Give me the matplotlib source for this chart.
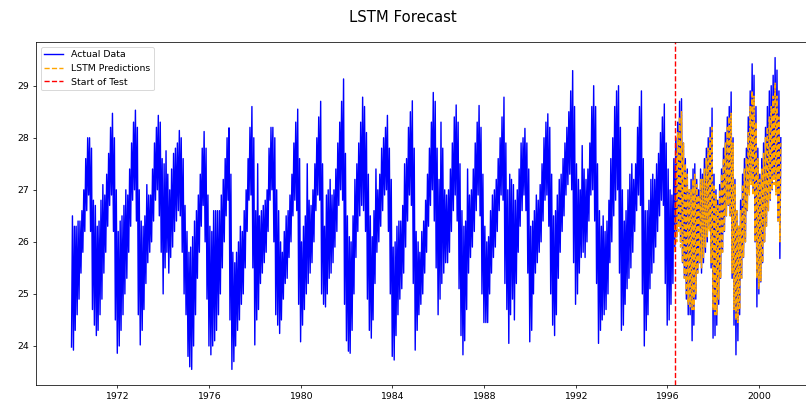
import matplotlib
matplotlib.use('Agg')
import matplotlib.pyplot as plt
import matplotlib.dates as mdates
import numpy as np

# the series is dense, keep every vertex when drawing
plt.rcParams['path.simplify'] = False

# monthly low / high of the actual series, one row per year (Jan..Dec)
years = list(range(1970, 2001))
monthly_low = [
    [23.98, 23.92, 24.3, 24.6, 24.9, 25.4, 25.8, 26.2, 26.6, 26.9, 26.2, 24.7],
    [24.4, 24.2, 24.3, 24.6, 24.9, 25.4, 25.8, 26.3, 26.7, 26.9, 26.2, 24.5],
    [23.86, 24.0, 24.3, 24.6, 25.0, 25.3, 25.8, 26.3, 26.8, 27.0, 26.4, 24.6],
    [24.02, 24.3, 24.7, 25.2, 25.6, 25.8, 26.0, 26.4, 26.8, 27.0, 26.5, 25.8],
    [25.0, 25.5, 25.8, 25.4, 25.7, 25.9, 26.2, 26.4, 26.6, 26.5, 25.8, 25.0],
    [24.6, 23.8, 23.6, 23.55, 24.0, 24.6, 25.3, 25.8, 26.3, 26.7, 26.0, 24.9],
    [24.0, 23.83, 24.0, 24.1, 24.3, 24.6, 25.0, 25.5, 26.0, 26.5, 26.8, 24.5],
    [23.55, 23.7, 24.0, 24.3, 24.5, 24.8, 25.0, 25.5, 26.2, 26.8, 26.9, 25.5],
    [24.02, 24.5, 24.7, 25.2, 25.4, 25.6, 25.8, 26.2, 26.8, 27.0, 26.0, 24.6],
    [24.4, 24.24, 24.5, 24.9, 25.2, 25.3, 25.7, 26.0, 26.5, 26.8, 26.6, 24.8],
    [24.08, 24.4, 24.7, 25.0, 25.2, 25.4, 25.6, 26.0, 26.6, 26.9, 26.8, 25.0],
    [24.8, 24.75, 25.0, 25.3, 25.4, 25.6, 25.9, 26.2, 26.7, 27.0, 26.8, 24.8],
    [24.1, 23.9, 23.86, 24.3, 25.0, 25.7, 26.2, 26.5, 26.7, 26.6, 26.2, 24.9],
    [24.3, 24.15, 24.5, 25.2, 25.8, 26.0, 26.3, 26.6, 26.9, 27.0, 26.2, 25.0],
    [23.8, 23.73, 24.2, 24.6, 24.9, 25.1, 25.4, 25.9, 26.4, 26.9, 26.7, 25.2],
    [23.92, 24.3, 24.6, 24.8, 25.0, 25.4, 25.8, 26.3, 26.7, 27.0, 26.4, 25.5],
    [24.6, 24.9, 25.2, 25.4, 25.6, 25.6, 25.8, 26.2, 26.6, 26.9, 26.4, 25.1],
    [24.2, 23.83, 24.1, 24.7, 25.4, 25.7, 25.9, 26.2, 26.6, 26.9, 26.5, 25.0],
    [24.45, 24.45, 24.45, 25.0, 25.4, 25.7, 25.9, 26.2, 26.6, 26.9, 26.8, 25.2],
    [24.7, 24.05, 24.6, 24.9, 24.5, 25.2, 25.8, 26.3, 26.6, 26.9, 26.6, 25.4],
    [24.08, 24.3, 25.0, 25.4, 25.6, 25.8, 26.0, 26.4, 26.8, 26.9, 26.3, 25.0],
    [24.4, 24.2, 24.6, 25.3, 25.8, 26.2, 26.5, 26.9, 27.1, 27.3, 27.0, 25.6],
    [24.8, 25.0, 25.4, 25.7, 25.8, 25.7, 26.0, 26.4, 26.9, 27.0, 26.4, 25.2],
    [24.05, 24.3, 24.5, 24.6, 24.7, 25.0, 25.6, 26.0, 26.5, 26.8, 27.0, 25.4],
    [24.3, 24.4, 24.8, 25.1, 25.3, 25.5, 25.8, 26.2, 26.6, 26.9, 26.7, 25.0],
    [24.0, 24.3, 24.6, 25.1, 25.4, 25.6, 25.9, 26.2, 26.5, 26.8, 26.7, 25.2],
    [24.4, 24.5, 24.8, 25.2, 25.9, 26.1, 26.3, 26.0, 25.6, 25.3, 24.9, 24.6],
    [24.6, 24.1, 24.4, 24.9, 25.4, 25.6, 25.4, 25.6, 25.8, 26.0, 26.3, 25.5],
    [24.15, 24.2, 24.4, 24.8, 25.3, 25.8, 26.2, 26.5, 26.7, 26.5, 25.3, 24.4],
    [23.83, 24.1, 24.6, 25.3, 25.7, 26.0, 26.6, 27.0, 27.2, 27.0, 26.0, 24.75],
    [25.0, 25.23, 25.6, 26.0, 26.3, 26.6, 26.8, 27.0, 27.2, 27.0, 26.4, 25.68],
]
monthly_high = [
    [26.5, 26.3, 26.3, 26.4, 26.4, 26.6, 27.0, 27.6, 28.0, 28.0, 27.8, 26.8],
    [26.7, 26.3, 26.4, 26.8, 27.1, 26.9, 27.3, 27.7, 28.2, 28.47, 28.0, 27.0],
    [26.2, 26.4, 26.5, 26.7, 27.0, 26.9, 27.4, 27.9, 28.3, 28.53, 28.2, 27.0],
    [26.4, 26.3, 26.5, 27.1, 26.9, 26.9, 27.4, 27.9, 28.2, 28.43, 28.3, 27.6],
    [27.5, 27.75, 27.3, 27.0, 27.4, 27.7, 27.8, 27.9, 28.14, 28.0, 27.6, 26.7],
    [26.2, 25.8, 25.9, 26.1, 26.4, 26.6, 26.9, 27.3, 27.8, 28.12, 27.8, 26.9],
    [26.3, 26.2, 26.6, 26.6, 26.6, 26.6, 26.9, 27.2, 27.6, 28.0, 28.19, 27.3],
    [25.8, 25.6, 25.8, 26.0, 26.3, 26.2, 26.6, 27.0, 27.6, 28.2, 28.6, 28.0],
    [26.6, 27.5, 26.5, 26.6, 26.7, 26.8, 27.0, 27.8, 28.2, 28.2, 28.0, 27.0],
    [26.6, 26.0, 25.8, 26.2, 26.5, 26.6, 26.9, 27.3, 27.9, 28.3, 28.55, 27.6],
    [26.0, 26.3, 26.5, 27.5, 26.8, 26.7, 27.0, 27.5, 28.0, 28.4, 28.7, 27.5],
    [26.3, 26.9, 27.0, 27.2, 26.9, 27.0, 27.4, 27.9, 28.3, 28.7, 29.13, 27.7],
    [26.5, 26.1, 26.0, 26.5, 27.2, 27.5, 27.9, 28.3, 28.78, 28.6, 28.1, 27.3],
    [26.5, 26.1, 26.6, 27.4, 27.0, 27.3, 27.8, 28.0, 28.2, 28.43, 27.8, 27.2],
    [25.9, 26.0, 26.3, 26.4, 26.4, 26.7, 27.5, 27.6, 28.2, 28.5, 28.71, 27.8],
    [26.2, 26.0, 25.8, 26.2, 26.4, 26.8, 27.3, 27.8, 28.3, 28.87, 28.7, 27.8],
    [27.2, 28.3, 27.8, 27.0, 26.9, 27.0, 27.4, 27.9, 28.4, 28.63, 28.3, 27.5],
    [26.6, 26.3, 26.4, 27.4, 26.9, 27.0, 27.4, 27.9, 28.3, 28.62, 28.2, 27.3],
    [26.3, 26.0, 26.1, 26.6, 26.9, 27.0, 27.2, 27.6, 28.0, 28.4, 28.78, 27.9],
    [27.0, 27.3, 27.2, 27.1, 26.8, 27.0, 27.4, 27.9, 28.0, 28.18, 27.9, 27.4],
    [26.3, 26.4, 26.6, 26.9, 26.8, 27.1, 27.5, 28.0, 28.3, 28.46, 28.2, 27.3],
    [26.5, 26.6, 26.9, 27.2, 27.3, 27.6, 27.9, 28.2, 28.5, 28.9, 29.29, 28.6],
    [27.5, 27.2, 27.0, 27.85, 27.4, 27.2, 27.4, 27.9, 28.6, 29.0, 28.6, 27.5],
    [26.6, 26.3, 26.5, 26.2, 26.4, 26.8, 27.6, 28.0, 28.6, 28.9, 29.0, 28.2],
    [27.0, 26.4, 26.6, 27.0, 27.3, 27.5, 27.2, 27.5, 28.2, 28.6, 28.9, 27.6],
    [26.6, 26.6, 26.8, 27.2, 27.3, 27.2, 27.5, 27.7, 28.1, 28.4, 28.65, 27.9],
    [27.4, 27.0, 26.9, 27.6, 28.0, 28.3, 28.7, 28.75, 27.9, 27.6, 27.4, 27.0],
    [27.2, 27.4, 27.5, 27.2, 27.0, 27.4, 27.3, 27.6, 27.8, 28.0, 28.2, 28.57],
    [27.3, 27.0, 26.8, 27.1, 27.4, 27.8, 28.1, 28.4, 28.6, 28.88, 28.0, 27.2],
    [26.6, 26.3, 26.8, 27.3, 27.6, 27.8, 28.4, 28.9, 29.42, 29.2, 28.6, 27.8],
    [27.3, 27.6, 27.9, 28.2, 28.6, 28.9, 29.0, 29.2, 29.54, 29.3, 28.9, 28.0],
]

# LSTM predictions, monthly low / high from May 1996 to Dec 2000
test_start = '1996-05-01'
pred_low = [
    25.8, 26.0, 26.2, 25.9, 25.6, 25.3, 25.0, 24.8,
    24.75, 24.7, 24.7, 25.0, 25.4, 25.6, 25.5, 25.7, 25.9, 26.1, 26.2, 25.6,
    24.7, 24.6, 24.6, 24.9, 25.3, 25.8, 26.2, 26.5, 26.7, 26.5, 25.4, 24.7,
    24.5, 24.45, 24.7, 25.3, 25.7, 26.0, 26.6, 26.9, 27.1, 26.9, 26.0, 25.3,
    25.1, 25.25, 25.6, 26.0, 26.3, 26.6, 26.8, 27.0, 27.1, 26.9, 26.4, 26.0,
]
pred_high = [
    27.7, 28.1, 28.4, 28.5, 27.9, 27.5, 27.3, 27.0,
    27.0, 27.2, 27.3, 27.1, 26.9, 27.2, 27.2, 27.4, 27.6, 27.8, 28.0, 28.2,
    27.1, 26.9, 26.7, 27.0, 27.3, 27.6, 27.9, 28.2, 28.4, 28.47, 27.9, 27.1,
    26.6, 26.3, 26.6, 27.1, 27.4, 27.6, 28.1, 28.6, 28.9, 28.8, 28.3, 27.6,
    27.2, 27.4, 27.7, 28.0, 28.2, 28.4, 28.6, 28.8, 29.05, 28.8, 28.4, 27.9,
]


def zigzag(start_year, start_month, lows, highs):
    # low at the 1st of each month, high mid-month
    dates, vals = [], []
    y, m = start_year, start_month
    for lo, hi in zip(lows, highs):
        dates.append(np.datetime64('%d-%02d-01' % (y, m)))
        vals.append(lo)
        dates.append(np.datetime64('%d-%02d-16' % (y, m)))
        vals.append(hi)
        m += 1
        if m > 12:
            m = 1
            y += 1
    return np.array(dates), np.array(vals)


actual_x, actual_y = zigzag(years[0], 1, sum(monthly_low, []), sum(monthly_high, []))
pred_x, pred_y = zigzag(1996, 5, pred_low, pred_high)

fig = plt.figure(figsize=(12, 5.985))
ax = fig.add_axes([0.0447, 0.0423, 0.968, 0.8532])
ax.plot(actual_x, actual_y, color='blue', label='Actual Data')
ax.plot(pred_x, pred_y, color='orange', linestyle='--', label='LSTM Predictions')
ax.axvline(np.datetime64(test_start), color='red', linestyle='--', label='Start of Test')
ax.xaxis.set_major_locator(mdates.YearLocator(4))
ax.xaxis.set_major_formatter(mdates.DateFormatter('%Y'))
ax.legend(loc='upper left')
fig.suptitle('LSTM Forecast', fontsize=16, y=0.9565, va='center')
fig.savefig('out.png', dpi=67.17)
